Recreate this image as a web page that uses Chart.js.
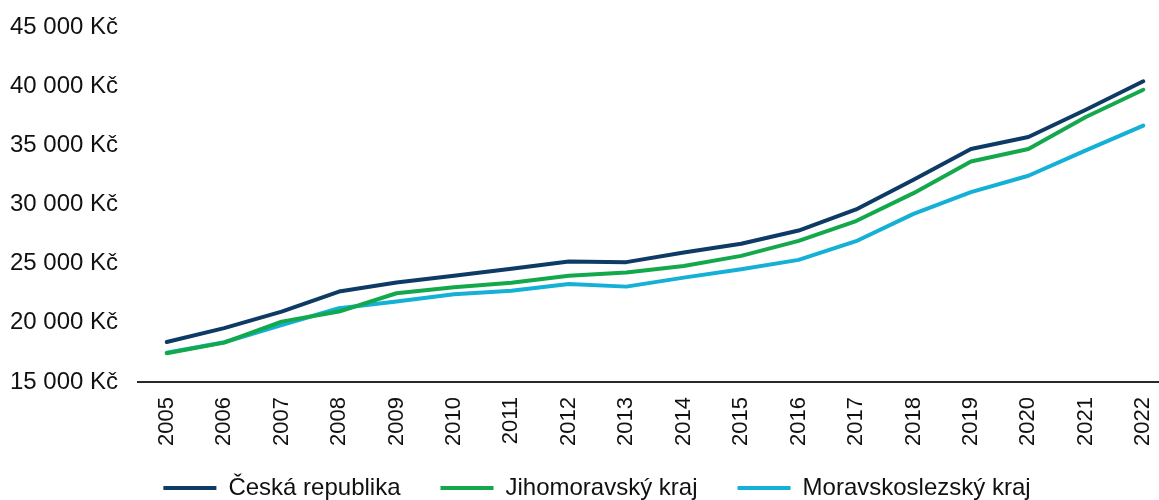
<!DOCTYPE html>
<html>
<head>
<meta charset="utf-8">
<script src="https://cdn.jsdelivr.net/npm/chart.js@4/dist/chart.umd.min.js"></script>
<style>
html,body{margin:0;padding:0;background:#fff;overflow:hidden;width:1159px;height:500px;}
#wrap{position:relative;width:1172px;height:500px;}
</style>
</head>
<body>
<div id="wrap"><canvas id="c"></canvas></div>
<script>
const years = ['2005','2006','2007','2008','2009','2010','2011','2012','2013','2014','2015','2016','2017','2018','2019','2020','2021','2022'];
const ceskaRepublika = [18380,19550,20950,22640,23400,23970,24570,25180,25130,25940,26680,27800,29580,32090,34690,35700,38010,40410];
const jihomoravsky = [17430,18330,20100,20950,22500,23010,23380,23970,24250,24810,25660,26930,28600,30960,33640,34690,37390,39700];
const moravskoslezsky = [17480,18360,19820,21235,21800,22420,22720,23290,23060,23820,24535,25320,26900,29210,31050,32430,34570,36660];
const seriesNames = ['Česká republika','Jihomoravský kraj','Moravskoslezský kraj'];
const yMin = 15000, yMax = 45000, yStep = 5000;

function fmt(v){ return String(v).replace(/\B(?=(\d{3})+(?!\d))/g,' ') + ' Kč'; }

const FONT = "'Liberation Sans', Arial, sans-serif";
const common = {pointStyle: 'line', borderCapStyle: 'round', borderJoinStyle: 'round', borderWidth: 4};

const legendShift = {
  id: 'legendShift',
  afterLayout(chart) {
    const lg = chart.legend;
    if (lg) { lg.top -= 10; lg.bottom -= 10; lg.left += 6; lg.right += 6; }
  }
};

new Chart(document.getElementById('c'), {
  type: 'line',
  data: {
    labels: years,
    datasets: [
      Object.assign({label: seriesNames[0], data: ceskaRepublika, borderColor:'#0d3b66', backgroundColor:'#0d3b66'}, common),
      Object.assign({label: seriesNames[1], data: jihomoravsky, borderColor:'#12a84b', backgroundColor:'#12a84b'}, common),
      Object.assign({label: seriesNames[2], data: moravskoslezsky, borderColor:'#14b0d5', backgroundColor:'#14b0d5'}, common)
    ]
  },
  plugins: [legendShift],
  options: {
    responsive: true,
    maintainAspectRatio: false,
    animation: false,
    elements: {
      line: {tension: 0},
      point: {radius: 0, hoverRadius: 0}
    },
    layout: {autoPadding: false, padding: {left: 10, top: 27, right: 0, bottom: -20}},
    plugins: {
      tooltip: {enabled: false},
      legend: {
        position: 'bottom',
        labels: {
          color: '#111',
          font: {family: FONT, size: 24},
          usePointStyle: true,
          pointStyleWidth: 53,
          padding: 40
        }
      }
    },
    scales: {
      x: {
        offset: true,
        grid: {display: false, drawTicks: false},
        border: {display: true, color: '#2a2a2a', width: 2},
        ticks: {
          color: '#111',
          font: {family: FONT, size: 22},
          minRotation: 90, maxRotation: 90,
          padding: 15,
          autoSkip: false
        },
        afterFit: (s) => { s.height = 64; s.paddingLeft = 0; s.paddingRight = 0; }
      },
      y: {
        min: yMin, max: yMax,
        grid: {display: false, drawTicks: false},
        border: {display: false},
        ticks: {
          stepSize: yStep,
          color: '#111',
          font: {family: FONT, size: 24},
          padding: 20,
          callback: (v) => fmt(v)
        },
        afterFit: (s) => { s.width = 128; s.paddingTop = 0; s.paddingBottom = 0; }
      }
    }
  }
});
</script>
</body>
</html>
